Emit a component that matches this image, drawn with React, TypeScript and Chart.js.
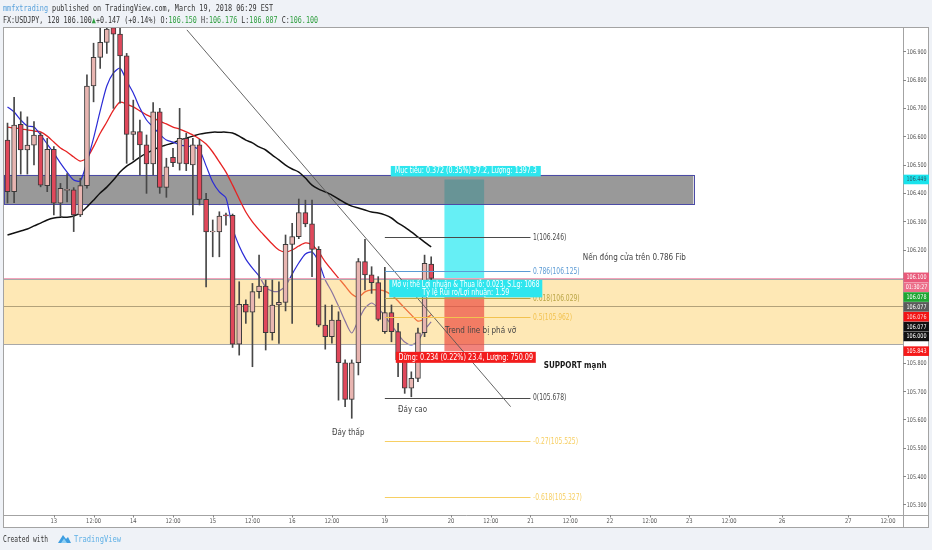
import React, { useEffect, useRef } from 'react';
import { Chart, registerables } from 'chart.js';

Chart.register(...registerables);

// ---- candle data (USDJPY, 120 min bars) ----
const opens = [
  106.588, 106.406, 106.644, 106.553, 106.570, 106.606, 106.427, 106.555, 106.365, 106.410,
  106.412, 106.324, 106.427, 106.779, 106.880, 106.933, 106.985, 106.962, 106.885, 106.608,
  106.618, 106.571, 106.504, 106.688, 106.421, 106.527, 106.506, 106.594, 106.500, 106.571,
  106.379, 106.264, 106.264, 106.324, 106.322, 105.868, 106.008, 105.981, 106.053, 106.073,
  105.908, 106.006, 106.015, 106.220, 106.247, 106.332, 106.292, 106.202, 105.935, 105.894,
  105.953, 105.802, 105.673, 105.802, 106.159, 106.112, 106.085, 105.912, 105.979, 105.912,
  105.812, 105.712, 105.747, 105.908, 106.150,
];
const highs = [
  106.648, 106.739, 106.688, 106.670, 106.653, 106.614, 106.594, 106.565, 106.435, 106.470,
  106.420, 106.453, 106.818, 106.930, 106.990, 107.010, 107.010, 106.990, 106.894, 106.729,
  106.659, 106.606, 106.720, 106.700, 106.524, 106.559, 106.700, 106.612, 106.594, 106.591,
  106.400, 106.306, 106.335, 106.330, 106.327, 106.088, 106.024, 106.082, 106.182, 106.094,
  106.094, 106.088, 106.253, 106.294, 106.380, 106.376, 106.376, 106.212, 106.006, 106.006,
  105.982, 105.812, 105.812, 106.170, 106.238, 106.141, 106.106, 106.139, 106.006, 105.941,
  105.829, 105.770, 105.924, 106.182, 106.176,
];
const lows = [
  106.366, 106.367, 106.468, 106.468, 106.500, 106.423, 106.406, 106.324, 106.318, 106.370,
  106.265, 106.318, 106.418, 106.723, 106.841, 106.894, 106.700, 106.718, 106.506, 106.518,
  106.465, 106.400, 106.465, 106.400, 106.386, 106.494, 106.482, 106.480, 106.324, 106.359,
  106.070, 106.176, 106.176, 106.288, 105.856, 105.829, 105.941, 105.788, 106.030, 105.847,
  105.882, 105.870, 105.985, 105.941, 106.240, 106.282, 106.106, 105.929, 105.850, 105.871,
  105.670, 105.647, 105.606, 105.759, 106.059, 106.047, 105.950, 105.906, 105.876, 105.753,
  105.694, 105.682, 105.735, 105.894, 106.087,
];
const closes = [
  106.406, 106.641, 106.553, 106.570, 106.606, 106.429, 106.555, 106.365, 106.418, 106.414,
  106.324, 106.427, 106.779, 106.880, 106.933, 106.980, 106.962, 106.885, 106.608, 106.618,
  106.571, 106.504, 106.688, 106.421, 106.494, 106.508, 106.594, 106.504, 106.571, 106.379,
  106.264, 106.267, 106.320, 106.320, 105.868, 106.008, 105.981, 106.053, 106.073, 105.908,
  106.006, 106.015, 106.220, 106.247, 106.332, 106.292, 106.202, 105.935, 105.894, 105.953,
  105.802, 105.673, 105.802, 106.159, 106.112, 106.085, 105.955, 105.979, 105.912, 105.812,
  105.712, 105.747, 105.908, 106.153, 106.100,
];

// ---- moving averages ----
const maSlow = [
  106.253, 106.260, 106.267, 106.274, 106.285, 106.295, 106.306, 106.313, 106.316, 106.316,
  106.320, 106.331, 106.352, 106.376, 106.401, 106.422, 106.447, 106.475, 106.496, 106.511,
  106.528, 106.542, 106.553, 106.564, 106.571, 106.578, 106.588, 106.595, 106.602, 106.609,
  106.613, 106.616, 106.616, 106.616, 106.613, 106.602, 106.588, 106.578, 106.564, 106.553,
  106.535, 106.518, 106.500, 106.486, 106.475, 106.454, 106.429, 106.415, 106.405, 106.394,
  106.380, 106.366, 106.355, 106.348, 106.341, 106.334, 106.331, 106.324, 106.313, 106.295,
  106.281, 106.264, 106.246, 106.228, 106.211,
];
const maMid = [
  106.634, 106.631, 106.627, 106.624, 106.620, 106.617, 106.602, 106.581, 106.560, 106.546,
  106.528, 106.514, 106.525, 106.565, 106.612, 106.652, 106.694, 106.722, 106.715, 106.705,
  106.691, 106.677, 106.666, 106.655, 106.645, 106.634, 106.627, 106.617, 106.606, 106.592,
  106.574, 106.546, 106.511, 106.475, 106.429, 106.380, 106.334, 106.299, 106.271, 106.246,
  106.221, 106.200, 106.193, 106.200, 106.214, 106.225, 106.218, 106.193, 106.158, 106.129,
  106.101, 106.073, 106.045, 106.034, 106.052, 106.059, 106.059, 106.055, 106.041, 106.020,
  105.995, 105.971, 105.949, 105.956, 105.971,
];
const maFast = [
  106.705, 106.687, 106.659, 106.638, 106.634, 106.606, 106.574, 106.542, 106.507, 106.475,
  106.447, 106.444, 106.511, 106.595, 106.691, 106.779, 106.825, 106.842, 106.797, 106.754,
  106.701, 106.659, 106.634, 106.609, 106.588, 106.581, 106.571, 106.567, 106.564, 106.553,
  106.497, 106.440, 106.405, 106.384, 106.278, 106.214, 106.168, 106.136, 106.108, 106.069,
  106.055, 106.055, 106.073, 106.115, 106.154, 106.186, 106.193, 106.158, 106.094, 106.052,
  106.002, 105.949, 105.907, 105.953, 105.995, 106.013, 105.995, 105.967, 105.935, 105.903,
  105.875, 105.865, 105.879, 105.918, 105.946,
];

// ---- axes ----
const xMinIndex = -0.68;
const xMaxIndex = 135.27;
const yMinPrice = 105.2646;
const yMaxPrice = 106.9872;
const xTickIndex = [7, 13, 19, 25, 31, 37, 43, 49, 57, 67, 73, 79, 85, 91, 97, 103, 109, 117, 127, 133];
const xTickLabels = ['13', '12:00', '14', '12:00', '15', '12:00', '16', '12:00', '19', '20', '12:00', '21', '12:00', '22', '12:00', '23', '12:00', '26', '27', '12:00'];
const yTicks = [106.9, 106.8, 106.7, 106.6, 106.5, 106.4, 106.3, 106.2, 106.1, 106.0, 105.9, 105.8, 105.7, 105.6, 105.5, 105.4, 105.3];

// ---- drawings ----
const fibRatios = ['1', '0.786', '0.618', '0.5', '0', '-0.27', '-0.618'];
const fibPrices = [106.246, 106.125, 106.029, 105.962, 105.678, 105.525, 105.327];
const fibSpan = [57, 79];
const resistanceZone = [106.465, 106.361];
const resistanceSpan = [-0.6, 103.6];
const supportZone = [106.097, 105.868];
const supportMid = 106.003;
const lastPrice = 106.1;
const trendStart = [27.1, 106.977];
const trendEnd = [76, 105.647];
const positionSpan = [66, 72];
const entryPrice = 106.077;
const targetPrice = 106.449;
const stopPrice = 105.843;
const targetText = 'Mục tiêu: 0.372 (0.35%) 37.2, Lượng: 1397.3';
const infoLines = ['Mở vị thế Lợi nhuận & Thua lỗ: 0.023, S.Lg: 1068', 'Tỷ lệ Rủi ro/Lợi nhuận: 1.59'];
const stopText = 'Dừng: 0.234 (0.22%) 23.4, Lượng: 750.09';
const noteTexts = ['Nến đóng cửa trên 0.786 Fib', 'Trend line bị phá vỡ', 'SUPPORT mạnh', 'Đáy cao', 'Đáy thấp'];
const noteIndex = [86.9, 66.1, 81.0, 59.0, 49.0];
const notePrice = [106.172, 105.914, 105.791, 105.635, 105.555];
const stackedBadges = ['106.100', '01:30:27', '106.078', '106.077', '106.076', '106.077', '106.000'];

const headerLine1 = [['mmfxtrading', '#5aa2dc'], [' published on TradingView.com, March 19, 2018 06:29 EST', '#333']];
const headerLine2 = [
  ['FX:USDJPY, 120 106.100', '#333'], ['▲', '#2e9e3e'], ['+0.147 (+0.14%) O:', '#333'], ['106.150', '#2e9e3e'],
  [' H:', '#333'], ['106.176', '#2e9e3e'], [' L:', '#333'], ['106.087', '#2e9e3e'], [' C:', '#333'], ['106.100', '#2e9e3e'],
];

const FONT = '"DejaVu Sans", sans-serif';
const MONO = '"DejaVu Sans Mono", monospace';

function txt(ctx: CanvasRenderingContext2D, s: string, x: number, y: number, o: any) {
  ctx.save();
  ctx.font = `${o.bold ? 'bold ' : ''}${o.size}px ${o.family || FONT}`;
  ctx.fillStyle = o.color;
  ctx.textBaseline = 'middle';
  ctx.textAlign = 'left';
  const w = ctx.measureText(s).width;
  const sx = o.width ? o.width / w : (o.sx ?? 0.76);
  const dw = w * sx;
  let left = x;
  if (o.align === 'center') left = x - dw / 2;
  else if (o.align === 'right') left = x - dw;
  ctx.translate(left, y);
  ctx.scale(sx, 1);
  ctx.fillText(s, 0, 0);
  ctx.restore();
}

function pieces(ctx: CanvasRenderingContext2D, parts: string[][], x: number, y: number, width: number, size: number) {
  ctx.save();
  ctx.font = `${size}px ${MONO}`;
  ctx.textBaseline = 'middle';
  const total = ctx.measureText(parts.map((p) => p[0]).join('')).width;
  ctx.translate(x, y);
  ctx.scale(width / total, 1);
  let cx = 0;
  for (const [s, c] of parts) {
    ctx.fillStyle = c;
    ctx.fillText(s, cx, 0);
    cx += ctx.measureText(s).width;
  }
  ctx.restore();
}

function hline(ctx: CanvasRenderingContext2D, x1: number, x2: number, y: number, color: string, w = 1) {
  ctx.save();
  ctx.strokeStyle = color;
  ctx.lineWidth = w;
  ctx.beginPath();
  ctx.moveTo(x1, Math.round(y) + 0.5);
  ctx.lineTo(x2, Math.round(y) + 0.5);
  ctx.stroke();
  ctx.restore();
}

function badge(ctx: CanvasRenderingContext2D, s: string, yc: number, bg: string, fg: string) {
  ctx.save();
  ctx.fillStyle = bg;
  ctx.fillRect(903.5, yc - 4.8, 25.5, 9.6);
  ctx.restore();
  txt(ctx, s, 916.5, yc + 0.3, { size: 6.5, color: fg, align: 'center', sx: 0.74 });
}

const tvPlugin = {
  id: 'tvDrawings',
  beforeDraw(chart: any) {
    const ctx: CanvasRenderingContext2D = chart.ctx;
    ctx.save();
    ctx.fillStyle = '#eff2f7';
    ctx.fillRect(0, 0, chart.width, chart.height);
    ctx.fillStyle = '#ffffff';
    ctx.fillRect(3, 27, 926, 501);
    ctx.restore();
    pieces(ctx, headerLine1, 3, 8.5, 270, 9);
    pieces(ctx, headerLine2, 3, 21, 315, 9);
    // footer
    txt(ctx, 'Created with', 3, 539.5, { size: 9, color: '#333', width: 45, family: MONO });
    ctx.save();
    ctx.fillStyle = '#3d9de0';
    ctx.beginPath();
    ctx.moveTo(58, 543);
    ctx.lineTo(63, 535);
    ctx.lineTo(66, 539);
    ctx.lineTo(68, 537);
    ctx.lineTo(71, 543);
    ctx.closePath();
    ctx.fill();
    ctx.fillStyle = '#8fd0f5';
    ctx.beginPath();
    ctx.moveTo(61, 543);
    ctx.lineTo(64, 538.5);
    ctx.lineTo(67, 543);
    ctx.closePath();
    ctx.fill();
    ctx.restore();
    txt(ctx, 'TradingView', 74, 539.5, { size: 9, color: '#5fb0e6', width: 47, family: MONO });
  },
  beforeDatasetsDraw(chart: any) {
    const ctx: CanvasRenderingContext2D = chart.ctx;
    const { x, y } = chart.scales;
    const a = chart.chartArea;
    ctx.save();
    ctx.beginPath();
    ctx.rect(a.left, a.top, a.right - a.left, a.bottom - a.top);
    ctx.clip();
    // long position – profit zone
    const pxl = x.getPixelForValue(positionSpan[0]);
    const pxr = x.getPixelForValue(positionSpan[1]);
    ctx.fillStyle = 'rgba(0,229,238,0.6)';
    ctx.fillRect(pxl, y.getPixelForValue(targetPrice), pxr - pxl, y.getPixelForValue(entryPrice) - y.getPixelForValue(targetPrice));
    // resistance rectangle
    const gl = x.getPixelForValue(resistanceSpan[0]);
    const gr = x.getPixelForValue(resistanceSpan[1]);
    const gt = y.getPixelForValue(resistanceZone[0]);
    const gb = y.getPixelForValue(resistanceZone[1]);
    ctx.fillStyle = 'rgba(105,105,105,0.68)';
    ctx.fillRect(gl, gt, gr - gl, gb - gt);
    ctx.strokeStyle = '#4b4ba6';
    ctx.lineWidth = 1;
    ctx.strokeRect(Math.round(gl) + 0.5, Math.round(gt) + 0.5, Math.round(gr - gl), Math.round(gb - gt));
    ctx.restore();
  },
  beforeDatasetDraw(chart: any, args: any) {
    if (args.index !== 0) return;
    const ctx: CanvasRenderingContext2D = chart.ctx;
    const { x, y } = chart.scales;
    const a = chart.chartArea;
    ctx.save();
    ctx.beginPath();
    ctx.rect(a.left, a.top, a.right - a.left, a.bottom - a.top);
    ctx.clip();
    // support rectangle
    const st = y.getPixelForValue(supportZone[0]);
    const sb = y.getPixelForValue(supportZone[1]);
    ctx.fillStyle = 'rgba(252,205,90,0.45)';
    ctx.fillRect(a.left, st, a.right - a.left, sb - st);
    hline(ctx, a.left, a.right, st, '#a8a8a8');
    hline(ctx, a.left, a.right, sb, '#a8a8a8');
    hline(ctx, a.left, a.right, y.getPixelForValue(supportMid), '#b3a27a');
    // loss zone
    const pxl = x.getPixelForValue(positionSpan[0]);
    const pxr = x.getPixelForValue(positionSpan[1]);
    const et = y.getPixelForValue(entryPrice);
    ctx.fillStyle = 'rgba(236,72,62,0.68)';
    ctx.fillRect(pxl, et, pxr - pxl, y.getPixelForValue(stopPrice) - et);
    // last price line
    hline(ctx, a.left, a.right, y.getPixelForValue(lastPrice), '#f3a4bb');
    ctx.restore();
  },
  afterDatasetsDraw(chart: any) {
    const ctx: CanvasRenderingContext2D = chart.ctx;
    const { x, y } = chart.scales;
    const a = chart.chartArea;
    ctx.save();
    ctx.beginPath();
    ctx.rect(a.left, a.top, a.right - a.left, a.bottom - a.top);
    ctx.clip();
    // trend line
    ctx.strokeStyle = '#555';
    ctx.lineWidth = 0.9;
    ctx.beginPath();
    ctx.moveTo(x.getPixelForValue(trendStart[0]), y.getPixelForValue(trendStart[1]));
    ctx.lineTo(x.getPixelForValue(trendEnd[0]), y.getPixelForValue(trendEnd[1]));
    ctx.stroke();
    // fibonacci extension
    const fibColors = ['#4a4a4a', '#5b9bd5', '#b9a545', '#f2c24f', '#4a4a4a', '#f7cf63', '#f7cf63'];
    const fl = x.getPixelForValue(fibSpan[0]);
    const fr = x.getPixelForValue(fibSpan[1]);
    fibPrices.forEach((p, i) => {
      const yy = y.getPixelForValue(p);
      hline(ctx, fl, fr, yy, fibColors[i]);
      txt(ctx, `${fibRatios[i]}(${p.toFixed(3)})`, fr + 2.5, yy + 0.5, { size: 8, color: fibColors[i], sx: 0.75 });
    });
    // position labels
    const cx = (x.getPixelForValue(positionSpan[0]) + x.getPixelForValue(positionSpan[1])) / 2 + 1.5;
    const ty = y.getPixelForValue(targetPrice);
    ctx.fillStyle = '#2ee6ee';
    ctx.fillRect(cx - 75, ty - 13.5, 150, 10.5);
    txt(ctx, targetText, cx, ty - 8.2, { size: 8, color: '#ffffff', align: 'center', width: 142 });
    const ey = y.getPixelForValue(entryPrice);
    ctx.fillStyle = '#2ee6ee';
    ctx.fillRect(cx - 76.5, ey - 5, 153, 17.5);
    txt(ctx, infoLines[0], cx, ey + 0.3, { size: 8, color: '#ffffff', align: 'center', width: 147.5 });
    txt(ctx, infoLines[1], cx, ey + 8, { size: 8, color: '#ffffff', align: 'center', width: 87 });
    const sy = y.getPixelForValue(stopPrice);
    ctx.fillStyle = '#f21d1d';
    ctx.fillRect(cx - 70, sy + 0.7, 140, 11);
    txt(ctx, stopText, cx, sy + 6.4, { size: 8, color: '#ffffff', align: 'center', width: 134.5 });
    // notes
    const noteWidths = [103, 71, 63, 29, 32.6];
    const noteBold = [false, false, true, false, false];
    const noteColors = ['#444', '#444', '#1a1a1a', '#444', '#444'];
    noteTexts.forEach((s, i) => {
      txt(ctx, s, x.getPixelForValue(noteIndex[i]), y.getPixelForValue(notePrice[i]), {
        size: 9, color: noteColors[i], bold: noteBold[i], width: noteWidths[i],
      });
    });
    ctx.restore();

    // axes frame
    ctx.save();
    ctx.strokeStyle = '#a3a3a3';
    ctx.lineWidth = 1;
    ctx.strokeRect(3.5, 27.5, 925, 500);
    ctx.beginPath();
    ctx.moveTo(Math.round(a.right) + 0.5, 27.5);
    ctx.lineTo(Math.round(a.right) + 0.5, 528);
    ctx.moveTo(3.5, Math.round(a.bottom) + 0.5);
    ctx.lineTo(929, Math.round(a.bottom) + 0.5);
    ctx.stroke();
    ctx.restore();

    // y axis labels
    yTicks.forEach((v) => {
      const yy = y.getPixelForValue(v);
      if (yy < a.top + 3 || yy > a.bottom - 3) return;
      hline(ctx, a.right, a.right + 3, yy - 0.5, '#888');
      txt(ctx, v.toFixed(3), 916.7, yy + 0.3, { size: 6.5, color: '#555', align: 'center', sx: 0.74 });
    });
    // x axis labels
    xTickIndex.forEach((v, i) => {
      const xx = x.getPixelForValue(v);
      ctx.save();
      ctx.strokeStyle = '#888';
      ctx.beginPath();
      ctx.moveTo(Math.round(xx) + 0.5, a.bottom);
      ctx.lineTo(Math.round(xx) + 0.5, a.bottom + 2.5);
      ctx.stroke();
      ctx.restore();
      txt(ctx, xTickLabels[i], xx, a.bottom + 6.8, { size: 6.5, color: '#555', align: 'center', sx: 0.8 });
    });

    // price badges
    badge(ctx, targetPrice.toFixed(3), y.getPixelForValue(targetPrice), '#19e3ec', '#2c5f6e');
    const stackBg = ['#e9597a', '#ec6f8a', '#1ea632', '#5a5a5a', '#f21414', '#111111', '#111111'];
    const stackFg = ['#ffffff', '#ffffff', '#ffffff', '#ffffff', '#ffd7d7', '#ffffff', '#ffffff'];
    const y0 = y.getPixelForValue(lastPrice) - 1;
    stackedBadges.forEach((s, i) => badge(ctx, s, y0 + i * 9.85, stackBg[i], stackFg[i]));
    badge(ctx, stopPrice.toFixed(3), y.getPixelForValue(stopPrice), '#f51a1a', '#ffffff');
  },
};

export default function App() {
  const ref = useRef<HTMLCanvasElement>(null);
  useEffect(() => {
    document.body.style.margin = '0';
    const idx = opens.map((_, i) => i);
    const chart = new Chart(ref.current as HTMLCanvasElement, {
      type: 'bar',
      data: {
        datasets: [
          {
            type: 'bar',
            label: 'wick',
            data: idx.map((i) => ({ x: i, y: [lows[i], highs[i]] })) as any,
            backgroundColor: '#474747',
            borderWidth: 0,
            barThickness: 1,
            grouped: false,
            order: 2,
          } as any,
          {
            type: 'bar',
            label: 'body',
            data: idx.map((i) => ({ x: i, y: [opens[i], closes[i]] })) as any,
            backgroundColor: idx.map((i) => (closes[i] >= opens[i] ? '#e8b5b1' : '#e0485b')),
            borderColor: '#3a3a3a',
            borderWidth: 1,
            borderSkipped: false,
            barThickness: 5,
            grouped: false,
            order: 1,
          } as any,
          {
            type: 'line',
            label: 'MA slow',
            data: idx.map((i) => ({ x: i, y: maSlow[i] })),
            borderColor: '#111111',
            borderWidth: 1.5,
            pointRadius: 0,
            tension: 0.25,
            order: 5,
          } as any,
          {
            type: 'line',
            label: 'MA mid',
            data: idx.map((i) => ({ x: i, y: maMid[i] })),
            borderColor: '#e62323',
            borderWidth: 1.3,
            pointRadius: 0,
            tension: 0.25,
            order: 4,
          } as any,
          {
            type: 'line',
            label: 'MA fast',
            data: idx.map((i) => ({ x: i, y: maFast[i] })),
            borderColor: '#2b2bd6',
            borderWidth: 1.2,
            pointRadius: 0,
            tension: 0.25,
            order: 3,
          } as any,
        ],
      },
      options: {
        animation: false,
        responsive: false,
        events: [],
        layout: { padding: { left: 3, right: 3, top: 27, bottom: 22 } },
        plugins: { legend: { display: false }, tooltip: { enabled: false }, title: { display: false } },
        scales: {
          x: {
            type: 'linear',
            min: xMinIndex,
            max: xMaxIndex,
            offset: false,
            grid: { display: false },
            border: { display: false },
            ticks: { display: false },
            afterFit: (s: any) => { s.height = 13; },
          },
          y: {
            type: 'linear',
            position: 'right',
            min: yMinPrice,
            max: yMaxPrice,
            grid: { display: false },
            border: { display: false },
            ticks: { display: false },
            afterFit: (s: any) => { s.width = 26; },
          },
        },
      } as any,
      plugins: [tvPlugin],
    });
    return () => chart.destroy();
  }, []);
  return (
    <div style={{ width: 932, height: 550 }}>
      <canvas ref={ref} width={932} height={550} style={{ display: 'block', width: 932, height: 550 }} />
    </div>
  );
}
